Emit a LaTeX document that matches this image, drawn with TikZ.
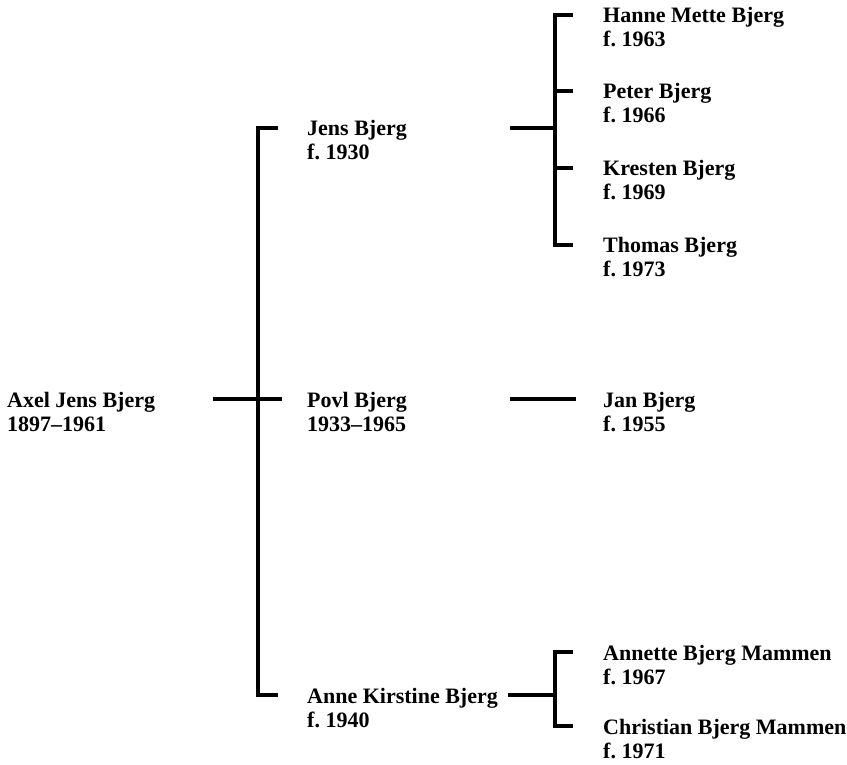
\documentclass[tikz,border=0pt]{standalone}
\usepackage{fontspec}
\setmainfont{Liberation Serif}
\usetikzlibrary{calc}
\tikzset{
  person/.style={anchor=base west, inner sep=0pt, font=\fontsize{22}{24}\selectfont\bfseries\frenchspacing},
  conn/.style={line width=3.2pt, line cap=butt, line join=miter}
}
\newcommand{\pers}[2]{\begin{tabular}[t]{@{}l@{}}#1\\#2\end{tabular}}
\begin{document}
\begin{tikzpicture}[x=1pt, y=-1pt]
\useasboundingbox (0,0) rectangle (847,765);
% people
\node[person] (axel) at (7,407) {\pers{Axel Jens Bjerg}{1897–1961}};
\node[person] (jens) at (307,136) {\pers{Jens Bjerg}{f. 1930}};
\node[person] (povl) at (307,407) {\pers{Povl Bjerg}{1933–1965}};
\node[person] (anne) at (307,703) {\pers{Anne Kirstine Bjerg}{f. 1940}};
\node[person] (hanne) at (603,23) {\pers{Hanne Mette Bjerg}{f. 1963}};
\node[person] (peter) at (603,99) {\pers{Peter Bjerg}{f. 1966}};
\node[person] (kresten) at (603,176) {\pers{Kresten Bjerg}{f. 1969}};
\node[person] (thomas) at (603,253) {\pers{Thomas Bjerg}{f. 1973}};
\node[person] (jan) at (603,407) {\pers{Jan Bjerg}{f. 1955}};
\node[person] (annette) at (603,660) {\pers{Annette Bjerg Mammen}{f. 1967}};
\node[person] (christian) at (603,734) {\pers{Christian Bjerg Mammen}{f. 1971}};
% junction points
\coordinate (colA) at (258,399);
\coordinate (colB) at (555,128);
\coordinate (colC) at (555,695);
% Axel -> children
\draw[conn] ($(axel.base west)+(206,-8)$) -- ($(povl.base west)+(-25,-8)$);
\draw[conn] ($(jens.base west)+(-29,-8)$) -| (colA) |- ($(anne.base west)+(-29,-8)$);
% Jens -> children
\draw[conn] ($(jens.base west)+(203,-8)$) -- (colB);
\draw[conn] ($(hanne.base west)+(-30,-8)$) -| (colB) |- ($(thomas.base west)+(-30,-8)$);
\draw[conn] ($(peter.base west)+(-30,-8)$) -- ++(-19,0);
\draw[conn] ($(kresten.base west)+(-30,-8)$) -- ++(-19,0);
% Povl -> Jan
\draw[conn] ($(povl.base west)+(203,-8)$) -- ($(jan.base west)+(-27,-8)$);
% Anne -> children
\draw[conn] ($(anne.base west)+(201,-8)$) -- (colC);
\draw[conn] ($(annette.base west)+(-30,-8)$) -| (colC) |- ($(christian.base west)+(-30,-8)$);
\end{tikzpicture}
\end{document}
